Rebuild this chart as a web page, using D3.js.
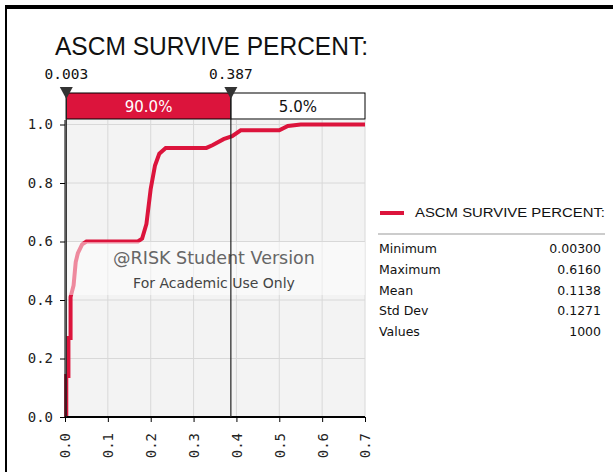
<!DOCTYPE html>
<html>
<head>
<meta charset="utf-8">
<script src="https://cdn.jsdelivr.net/npm/d3@7"></script>
<style>
  body { margin: 0; background: #fff; }
  svg { display: block; font-family: "DejaVu Sans", sans-serif; }
</style>
</head>
<body>
<svg width="613" height="472"></svg>
<script>
// cumulative curve
const cdfX = [0.003, 0.003, 0.008, 0.008, 0.013, 0.013, 0.02, 0.025, 0.03, 0.04, 0.05, 0.17, 0.18, 0.19, 0.2, 0.21, 0.22, 0.235, 0.33, 0.345, 0.37, 0.39, 0.41, 0.5, 0.52, 0.55, 0.7];
const cdfY = [0, 0.14, 0.14, 0.27, 0.27, 0.41, 0.45, 0.53, 0.56, 0.59, 0.6, 0.6, 0.61, 0.66, 0.78, 0.86, 0.9, 0.92, 0.92, 0.93, 0.95, 0.96, 0.98, 0.98, 0.995, 1, 1];
const xTicks = [0, 0.1, 0.2, 0.3, 0.4, 0.5, 0.6, 0.7];
const yTicks = [0, 0.2, 0.4, 0.6, 0.8, 1.0];
const markers = [0.003, 0.387];
const bandLabels = ["90.0%", "5.0%"];
const statNames = ["Minimum", "Maximum", "Mean", "Std Dev", "Values"];
const statValues = ["0.00300", "0.6160", "0.1138", "0.1271", "1000"];

const seriesName = "ASCM SURVIVE PERCENT:";
const red = "#dc143c";
const mono = "DejaVu Sans Mono, monospace";

const svg = d3.select("svg");
const margin = { left: 65, top: 120, right: 248, bottom: 55 };
const width = 300, height = 297;

// frame
svg.append("rect").attr("x", 5).attr("y", 5).attr("width", 608).attr("height", 4).attr("fill", "#000");
svg.append("rect").attr("x", 5).attr("y", 5).attr("width", 2).attr("height", 467).attr("fill", "#000");

// title
svg.append("text")
  .attr("x", 55).attr("y", 55)
  .attr("font-family", "Liberation Sans, sans-serif")
  .attr("font-size", "25px")
  .attr("textLength", 313).attr("lengthAdjust", "spacingAndGlyphs")
  .attr("fill", "#111")
  .text(seriesName);

const g = svg.append("g").attr("transform", "translate(" + margin.left + "," + margin.top + ")");

const x = d3.scaleLinear().domain([0, 0.7]).range([0, width]);
const y = d3.scaleLinear().domain([0, 1]).range([height, 4.5]);

g.append("rect").attr("width", width).attr("height", height).attr("fill", "#f3f3f3");

// grid
g.selectAll(".gx").data(xTicks.slice(1)).enter().append("line")
  .attr("x1", d => x(d)).attr("x2", d => x(d)).attr("y1", 0).attr("y2", height)
  .attr("stroke", "#d8d8d8");
g.selectAll(".gy").data(yTicks.slice(1)).enter().append("line")
  .attr("x1", 0).attr("x2", width).attr("y1", d => y(d)).attr("y2", d => y(d))
  .attr("stroke", "#d8d8d8");

// curve
const line = d3.line().x(d => x(d[0])).y(d => y(d[1]));
g.append("path")
  .datum(d3.zip(cdfX, cdfY))
  .attr("d", line)
  .attr("fill", "none")
  .attr("stroke", red)
  .attr("stroke-width", 4);

// watermark
g.append("rect")
  .attr("x", 0).attr("y", 122).attr("width", width).attr("height", 53)
  .attr("fill", "#fff").attr("opacity", 0.5);
g.append("text")
  .attr("x", 149).attr("y", 144)
  .attr("text-anchor", "middle").attr("font-size", "17.5px").attr("fill", "#666")
  .text("@RISK Student Version");
g.append("text")
  .attr("x", 149).attr("y", 168)
  .attr("text-anchor", "middle").attr("font-size", "14px").attr("fill", "#444")
  .text("For Academic Use Only");

// axes
const yAxis = g.append("g")
  .call(d3.axisLeft(y).tickValues(yTicks).tickSize(5).tickFormat(d3.format(".1f")));
yAxis.select(".domain").attr("d", "M0,0V" + height);
yAxis.selectAll("text").attr("font-family", mono).attr("font-size", "14px").attr("fill", "#222").attr("dx", "-4px");

const xAxis = g.append("g")
  .attr("transform", "translate(0," + height + ")")
  .call(d3.axisBottom(x).tickValues(xTicks).tickSize(5).tickFormat(d3.format(".1f")));
xAxis.select(".domain").attr("d", "M0,0H" + width).attr("stroke-width", 2);
xAxis.selectAll("text")
  .attr("font-family", mono).attr("font-size", "14px").attr("fill", "#222")
  .attr("transform", "rotate(-90)")
  .attr("text-anchor", "end")
  .attr("x", -16).attr("y", 0).attr("dy", "0.35em");

// delimiters
const bandTop = -27, bandH = 26;
g.append("rect")
  .attr("x", x(markers[0])).attr("y", bandTop)
  .attr("width", x(markers[1]) - x(markers[0])).attr("height", bandH)
  .attr("fill", red).attr("stroke", "#000");
g.append("rect")
  .attr("x", x(markers[1])).attr("y", bandTop)
  .attr("width", x(0.7) - x(markers[1])).attr("height", bandH)
  .attr("fill", "#fff").attr("stroke", "#000");
g.append("text")
  .attr("x", (x(markers[0]) + x(markers[1])) / 2).attr("y", bandTop + 19)
  .attr("text-anchor", "middle").attr("font-size", "15px").attr("fill", "#fff")
  .text(bandLabels[0]);
g.append("text")
  .attr("x", (x(markers[1]) + x(0.7)) / 2).attr("y", bandTop + 19)
  .attr("text-anchor", "middle").attr("font-size", "15px").attr("fill", "#111")
  .text(bandLabels[1]);

g.selectAll(".mline").data(markers).enter().append("line")
  .attr("x1", d => x(d)).attr("x2", d => x(d))
  .attr("y1", bandTop).attr("y2", height)
  .attr("stroke", "#222").attr("stroke-width", 1.2);
g.selectAll(".mtri").data(markers).enter().append("path")
  .attr("d", d => "M" + (x(d) - 6.5) + "," + (bandTop - 6) + "H" + (x(d) + 6.5) + "L" + x(d) + "," + (bandTop + 6) + "Z")
  .attr("fill", "#333");
g.selectAll(".mlab").data(markers).enter().append("text")
  .attr("x", d => x(d)).attr("y", bandTop - 14)
  .attr("text-anchor", "middle").attr("font-family", mono).attr("font-size", "14.5px").attr("fill", "#111")
  .text(d => d3.format(".3f")(d));

// legend
const lg = svg.append("g").attr("transform", "translate(378,0)");
lg.append("line").attr("x1", 2).attr("x2", 26).attr("y1", 213).attr("y2", 213)
  .attr("stroke", red).attr("stroke-width", 4);
lg.append("text")
  .attr("x", 37).attr("y", 217)
  .attr("font-family", "Liberation Sans, sans-serif")
  .attr("font-size", "12px").attr("textLength", 190).attr("lengthAdjust", "spacingAndGlyphs")
  .attr("fill", "#111")
  .text(seriesName);
lg.append("line").attr("x1", 0).attr("x2", 227).attr("y1", 234).attr("y2", 234)
  .attr("stroke", "#999");

const rowY = d3.scalePoint().domain(statNames).range([253, 336]);
lg.selectAll(".sname").data(statNames).enter().append("text")
  .attr("x", 1).attr("y", d => rowY(d))
  .attr("font-size", "12.5px").attr("fill", "#111")
  .text(d => d);
lg.selectAll(".sval").data(statValues).enter().append("text")
  .attr("x", 223).attr("y", (d, i) => rowY(statNames[i]))
  .attr("text-anchor", "end").attr("font-size", "12.5px").attr("fill", "#111")
  .text(d => d);
</script>
</body>
</html>
